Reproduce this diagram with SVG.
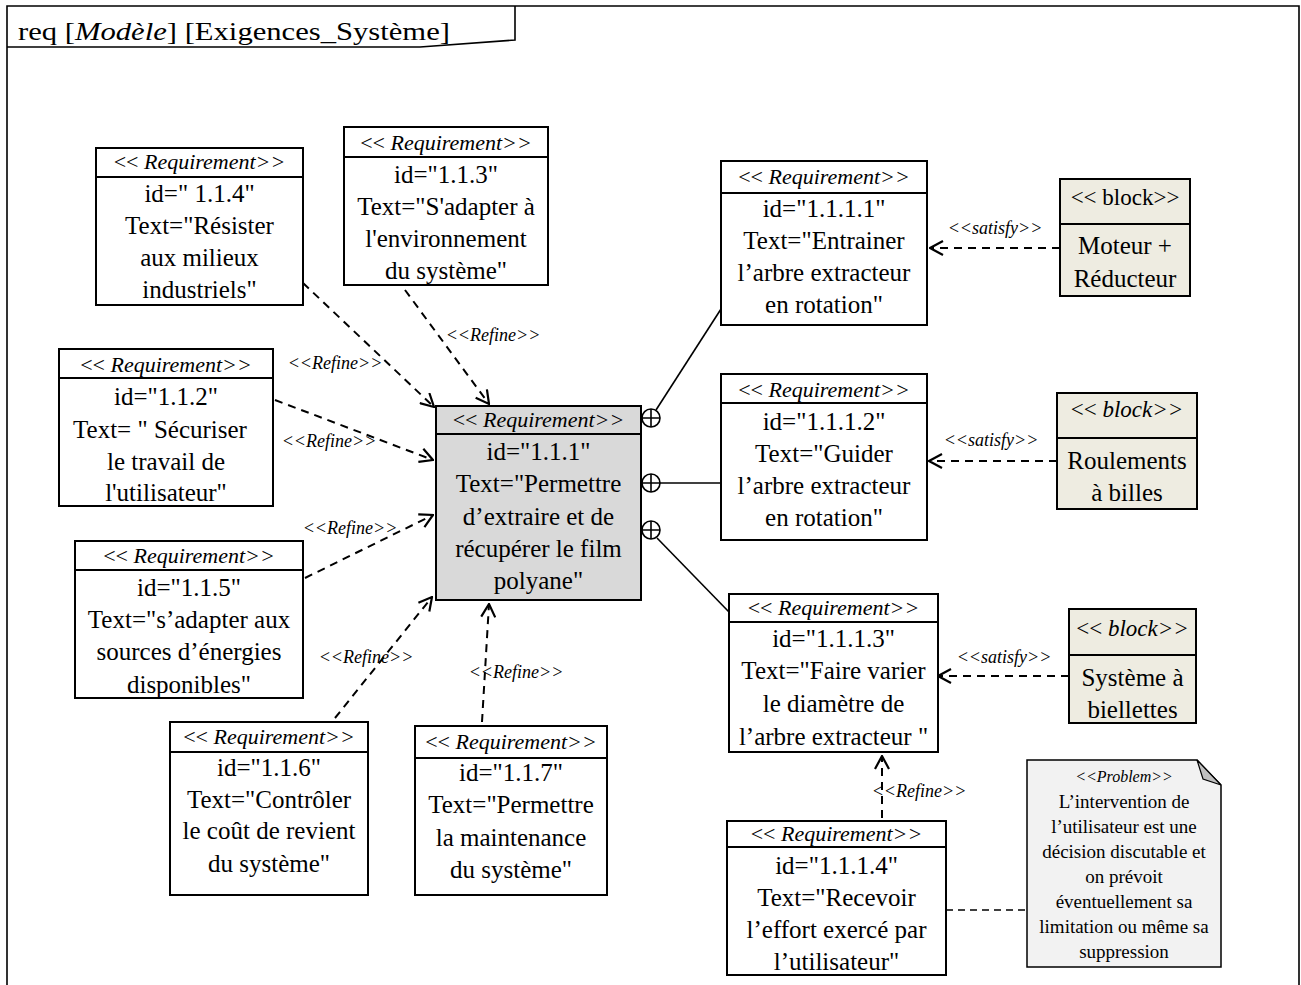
<svg xmlns="http://www.w3.org/2000/svg" width="1301" height="985" viewBox="0 0 1301 985">
<style>
.box{fill:#fff;stroke:#000;stroke-width:2}
.main{fill:#d9d9d9;stroke:#000;stroke-width:2}
.blk{fill:#eeece1;stroke:#000;stroke-width:2}
.div{stroke:#000;stroke-width:2}
text{font-family:"Liberation Serif","Times New Roman",serif;fill:#000;text-anchor:middle}
.t{font-size:25px}
.h{font-size:22px;font-style:italic}
.hn{font-style:normal}
.lbl{font-size:18px;font-style:italic}
.nt{font-size:19px}
.dash{fill:none;stroke:#000;stroke-width:2;stroke-dasharray:8,6}
.sol{fill:none;stroke:#000;stroke-width:1.6}
</style>
<defs>
<marker id="arr" markerUnits="userSpaceOnUse" markerWidth="16" markerHeight="16" viewBox="0 0 16 16" refX="15" refY="8" orient="auto">
<path d="M2,1 L15,8 L2,15" fill="none" stroke="#000" stroke-width="2.2"/>
</marker>
</defs>
<rect width="1301" height="985" fill="#fff"/>
<g id="frame">
<path d="M7,990 L7,6 L1299,6 L1299,990" fill="none" stroke="#000" stroke-width="1.6"/>
<path d="M7,47 L420,47 L515,40 L515,6" fill="none" stroke="#000" stroke-width="1.6"/>
<text x="18" y="40" style="font-size:26px;text-anchor:start" textLength="432" lengthAdjust="spacingAndGlyphs">req [<tspan font-style="italic">Modèle</tspan>] [Exigences_Système]</text>
</g>
<g id="connectors">
<path class="dash" d="M303,283 L434,407" marker-end="url(#arr)"/>
<path class="dash" d="M405,290 L489,404" marker-end="url(#arr)"/>
<path class="dash" d="M275,400 L433,460" marker-end="url(#arr)"/>
<path class="dash" d="M305,578 L433,515" marker-end="url(#arr)"/>
<path class="dash" d="M335,718 L432,597" marker-end="url(#arr)"/>
<path class="dash" d="M482,722 L489,604" marker-end="url(#arr)"/>
<path class="dash" d="M882,818 L882,756" marker-end="url(#arr)"/>
<path class="dash" d="M1060,248 L930,248" marker-end="url(#arr)"/>
<path class="dash" d="M1057,461 L929,461" marker-end="url(#arr)"/>
<path class="dash" d="M1069,676 L938,676" marker-end="url(#arr)"/>
<path class="dash" d="M946,910 L1027,910" style="stroke-width:1.5;stroke-dasharray:7,5"/>
<path class="sol" d="M656,410 L721,309"/>
<path class="sol" d="M660,483 L721,483"/>
<path class="sol" d="M657,538 L729,612"/>
<g fill="#fff" stroke="#000" stroke-width="1.6">
<circle cx="651" cy="418" r="9"/><path d="M642,418 H660 M651,409 V427"/>
<circle cx="651" cy="483" r="9"/><path d="M642,483 H660 M651,474 V492"/>
<circle cx="651" cy="530" r="9"/><path d="M642,530 H660 M651,521 V539"/>
</g>
<text class="lbl" x="335" y="369">&lt;&lt;Refine&gt;&gt;</text>
<text class="lbl" x="493" y="341">&lt;&lt;Refine&gt;&gt;</text>
<text class="lbl" x="329" y="447">&lt;&lt;Refine&gt;&gt;</text>
<text class="lbl" x="350" y="534">&lt;&lt;Refine&gt;&gt;</text>
<text class="lbl" x="366" y="663">&lt;&lt;Refine&gt;&gt;</text>
<text class="lbl" x="516" y="678">&lt;&lt;Refine&gt;&gt;</text>
<text class="lbl" x="919" y="797">&lt;&lt;Refine&gt;&gt;</text>
<text class="lbl" x="995" y="234">&lt;&lt;satisfy&gt;&gt;</text>
<text class="lbl" x="991" y="446">&lt;&lt;satisfy&gt;&gt;</text>
<text class="lbl" x="1004" y="663">&lt;&lt;satisfy&gt;&gt;</text>
</g>
<g id="req-114">
<rect class="box" x="96" y="148" width="207" height="157"/>
<line class="div" x1="96" y1="177" x2="303" y2="177"/>
<text class="h" x="199.5" y="169"><tspan class="hn">&lt;&lt; </tspan>Requirement&gt;&gt;</text>
<text class="t" x="199.5" y="202">id=" 1.1.4"</text>
<text class="t" x="199.5" y="234">Text="Résister</text>
<text class="t" x="199.5" y="266">aux milieux</text>
<text class="t" x="199.5" y="298">industriels"</text>
</g>
<g id="req-113">
<rect class="box" x="344" y="127" width="204" height="158"/>
<line class="div" x1="344" y1="157" x2="548" y2="157"/>
<text class="h" x="446" y="150"><tspan class="hn">&lt;&lt; </tspan>Requirement&gt;&gt;</text>
<text class="t" x="446" y="183">id="1.1.3"</text>
<text class="t" x="446" y="215">Text="S'adapter à</text>
<text class="t" x="446" y="247">l'environnement</text>
<text class="t" x="446" y="279">du système"</text>
</g>
<g id="req-112">
<rect class="box" x="59" y="349" width="214" height="157"/>
<line class="div" x1="59" y1="378" x2="273" y2="378"/>
<text class="h" x="166" y="372"><tspan class="hn">&lt;&lt; </tspan>Requirement&gt;&gt;</text>
<text class="t" x="166" y="405">id="1.1.2"</text>
<text class="t" x="160" y="438">Text= " Sécuriser</text>
<text class="t" x="166" y="470">le travail de</text>
<text class="t" x="166" y="501">l'utilisateur"</text>
</g>
<g id="req-115">
<rect class="box" x="75" y="541" width="228" height="157"/>
<line class="div" x1="75" y1="570" x2="303" y2="570"/>
<text class="h" x="189" y="563"><tspan class="hn">&lt;&lt; </tspan>Requirement&gt;&gt;</text>
<text class="t" x="189" y="596">id="1.1.5"</text>
<text class="t" x="189" y="628">Text="s’adapter aux</text>
<text class="t" x="189" y="660">sources d’énergies</text>
<text class="t" x="189" y="693">disponibles"</text>
</g>
<g id="req-116">
<rect class="box" x="170" y="722" width="198" height="173"/>
<line class="div" x1="170" y1="752" x2="368" y2="752"/>
<text class="h" x="269" y="744"><tspan class="hn">&lt;&lt; </tspan>Requirement&gt;&gt;</text>
<text class="t" x="269" y="776">id="1.1.6"</text>
<text class="t" x="269" y="808">Text="Contrôler</text>
<text class="t" x="269" y="839">le coût de revient</text>
<text class="t" x="269" y="872">du système"</text>
</g>
<g id="req-117">
<rect class="box" x="415" y="726" width="192" height="169"/>
<line class="div" x1="415" y1="758" x2="607" y2="758"/>
<text class="h" x="511" y="749"><tspan class="hn">&lt;&lt; </tspan>Requirement&gt;&gt;</text>
<text class="t" x="511" y="781">id="1.1.7"</text>
<text class="t" x="511" y="813">Text="Permettre</text>
<text class="t" x="511" y="846">la maintenance</text>
<text class="t" x="511" y="878">du système"</text>
</g>
<g id="req-111">
<rect class="main" x="436" y="406" width="205" height="194"/>
<line class="div" x1="436" y1="434" x2="641" y2="434"/>
<text class="h" x="538.5" y="427"><tspan class="hn">&lt;&lt; </tspan>Requirement&gt;&gt;</text>
<text class="t" x="538.5" y="460">id="1.1.1"</text>
<text class="t" x="538.5" y="492">Text="Permettre</text>
<text class="t" x="538.5" y="525">d’extraire et de</text>
<text class="t" x="538.5" y="557">récupérer le film</text>
<text class="t" x="538.5" y="589">polyane"</text>
</g>
<g id="req-1111">
<rect class="box" x="721" y="161" width="206" height="164"/>
<line class="div" x1="721" y1="193" x2="927" y2="193"/>
<text class="h" x="824" y="184"><tspan class="hn">&lt;&lt; </tspan>Requirement&gt;&gt;</text>
<text class="t" x="824" y="217">id="1.1.1.1"</text>
<text class="t" x="824" y="249">Text="Entrainer</text>
<text class="t" x="824" y="281">l’arbre extracteur</text>
<text class="t" x="824" y="313">en rotation"</text>
</g>
<g id="req-1112">
<rect class="box" x="721" y="374" width="206" height="166"/>
<line class="div" x1="721" y1="403" x2="927" y2="403"/>
<text class="h" x="824" y="397"><tspan class="hn">&lt;&lt; </tspan>Requirement&gt;&gt;</text>
<text class="t" x="824" y="430">id="1.1.1.2"</text>
<text class="t" x="824" y="462">Text="Guider</text>
<text class="t" x="824" y="494">l’arbre extracteur</text>
<text class="t" x="824" y="526">en rotation"</text>
</g>
<g id="req-1113">
<rect class="box" x="729" y="594" width="209" height="158"/>
<line class="div" x1="729" y1="622" x2="938" y2="622"/>
<text class="h" x="833.5" y="615"><tspan class="hn">&lt;&lt; </tspan>Requirement&gt;&gt;</text>
<text class="t" x="833.5" y="647">id="1.1.1.3"</text>
<text class="t" x="833.5" y="679">Text="Faire varier</text>
<text class="t" x="833.5" y="712">le diamètre de</text>
<text class="t" x="833.5" y="745">l’arbre extracteur "</text>
</g>
<g id="req-1114">
<rect class="box" x="727" y="821" width="219" height="154"/>
<line class="div" x1="727" y1="847" x2="946" y2="847"/>
<text class="h" x="836.5" y="841"><tspan class="hn">&lt;&lt; </tspan>Requirement&gt;&gt;</text>
<text class="t" x="836.5" y="874">id="1.1.1.4"</text>
<text class="t" x="836.5" y="906">Text="Recevoir</text>
<text class="t" x="836.5" y="938">l’effort exercé par</text>
<text class="t" x="836.5" y="970">l’utilisateur"</text>
</g>
<g id="block-moteur">
<rect class="blk" x="1060" y="179" width="130" height="117"/>
<line class="div" x1="1060" y1="224" x2="1190" y2="224"/>
<text class="t" x="1125" y="205" style="font-size:23px">&lt;&lt; block&gt;&gt;</text>
<text class="t" x="1125" y="254">Moteur +</text>
<text class="t" x="1125" y="287">Réducteur</text>
</g>
<g id="block-roulements">
<rect class="blk" x="1057" y="393" width="140" height="116"/>
<line class="div" x1="1057" y1="438" x2="1197" y2="438"/>
<text class="h" x="1127" y="417" style="font-size:23px"><tspan class="hn">&lt;&lt; </tspan>block&gt;&gt;</text>
<text class="t" x="1127" y="469">Roulements</text>
<text class="t" x="1127" y="501">à billes</text>
</g>
<g id="block-systeme">
<rect class="blk" x="1069" y="609" width="127" height="114"/>
<line class="div" x1="1069" y1="655" x2="1196" y2="655"/>
<text class="h" x="1132.5" y="636" style="font-size:23px"><tspan class="hn">&lt;&lt; </tspan>block&gt;&gt;</text>
<text class="t" x="1132.5" y="686">Système à</text>
<text class="t" x="1132.5" y="718">biellettes</text>
</g>
<g id="note-problem">
<path d="M1027,760 L1197,760 L1221,785 L1221,967 L1027,967 Z" fill="#f2f2f2" stroke="#000" stroke-width="1.5"/>
<path d="M1197,760 L1203,779 L1221,785 Z" fill="#bfbfbf" stroke="#000" stroke-width="1.2"/>
<text class="nt" x="1124" y="782" style="font-size:16px;font-style:italic">&lt;&lt;Problem&gt;&gt;</text>
<text class="nt" x="1124" y="808">L’intervention de</text>
<text class="nt" x="1124" y="833">l’utilisateur est une</text>
<text class="nt" x="1124" y="858">décision discutable et</text>
<text class="nt" x="1124" y="883">on prévoit</text>
<text class="nt" x="1124" y="908">éventuellement sa</text>
<text class="nt" x="1124" y="933">limitation ou même sa</text>
<text class="nt" x="1124" y="958">suppression</text>
</g>
</svg>
